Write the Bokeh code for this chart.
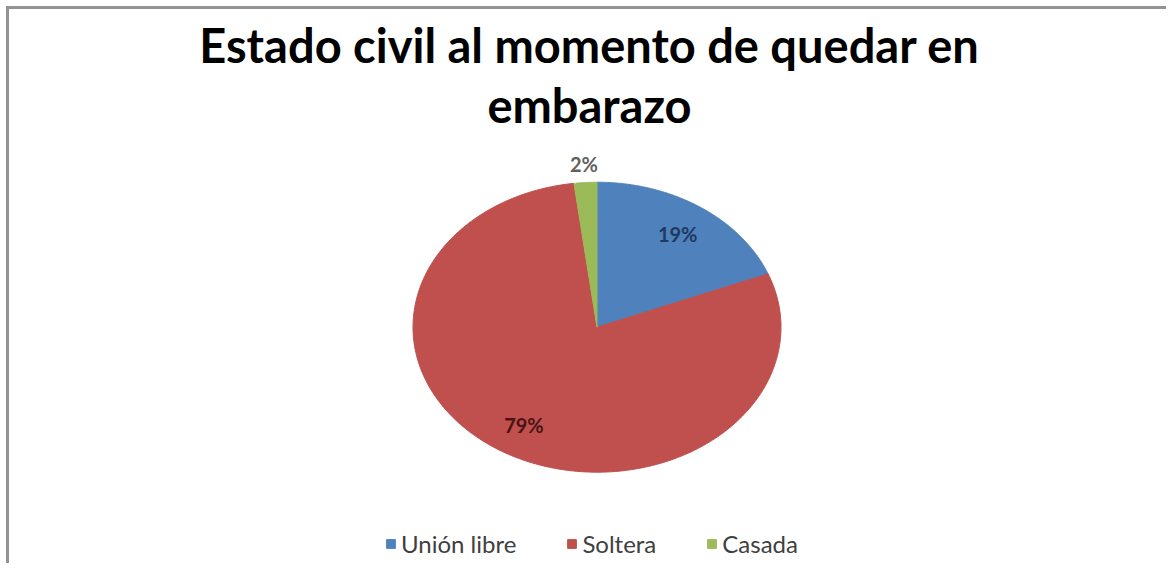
import numpy as np
from bokeh.plotting import figure
from bokeh.models import ColumnDataSource, Legend, LegendItem, Title
from bokeh.core.properties import value
from bokeh.embed import file_html
from bokeh.resources import INLINE

# ---- data ----
title_lines = ["Estado civil al momento de quedar en", "embarazo"]
categories = ["Unión libre", "Soltera", "Casada"]
shares = [19, 79, 2]
colors = ["#4F81BD", "#C0504D", "#9BBB59"]
label_colors = ["#1F3A60", "#4A1414", "#606060"]

# ---- layout (pixels, canvas origin sits at page (9, 9)) ----
W, H = 1160, 557
TOP = 123
RX, RY = 184, 145          # pie ellipse radii in px
CX, CY = 587.5, 317.7      # pie centre inside the canvas, px
frame_h = H - TOP
cy_f = CY - TOP
x_range = (-CX / RX, (W - CX) / RX)
y_range = (-(frame_h - cy_f) / RY, cy_f / RY)

p = figure(width=W, height=H, x_range=x_range, y_range=y_range,
           output_backend="svg", toolbar_location=None,
           x_axis_location=None, y_axis_location=None,
           min_border_left=0, min_border_right=0, min_border_bottom=0,
           min_border_top=TOP,
           styles={"margin-left": "6px", "margin-top": "6px",
                   "border-left": "3px solid #939393", "border-top": "3px solid #939393"})
p.grid.grid_line_color = None
p.outline_line_color = None
p.background_fill_color = "white"
p.border_fill_color = "white"

def style_title(t, txt, standoff):
    t.text = txt
    t.align = "center"
    t.text_font = "Lato"
    t.text_font_style = "bold"
    t.text_font_size = "47px"
    t.text_color = "#000000"
    t.standoff = standoff

# first line is the figure's own title (outermost), second line added below it
style_title(p.title, title_lines[0], 4)
t2 = Title()
style_title(t2, title_lines[1], 0)
p.add_layout(t2, "above")

# ---- slices (unit circle in data space, stretched by the ranges) ----
total = float(sum(shares))
cum = np.concatenate([[0.0], np.cumsum(shares)]) / total
xs, ys, lx, ly, ltxt = [], [], [], [], []
for i, s in enumerate(shares):
    a0 = np.pi / 2 - 2 * np.pi * cum[i]
    a1 = np.pi / 2 - 2 * np.pi * cum[i + 1]
    t = np.linspace(a0, a1, 240)
    xs.append([0.0, *np.cos(t), 0.0])
    ys.append([0.0, *np.sin(t), 0.0])
    mid = (a0 + a1) / 2
    f = 0.78 if s / total >= 0.05 else 1.13
    lx.append(f * np.cos(mid))
    ly.append(f * np.sin(mid))
    ltxt.append(f"{round(100 * s / total)}%")

src = ColumnDataSource(dict(xs=xs, ys=ys, color=colors, category=categories))
r = p.patches("xs", "ys", source=src, fill_color="color", line_color="color", line_width=1)

lsrc = ColumnDataSource(dict(x=lx, y=ly, text=ltxt, color=label_colors))
p.text("x", "y", text="text", source=lsrc, text_color="color",
       text_align="center", text_baseline="middle",
       text_font=value("Lato"), text_font_size="20px", text_font_style="bold")

legend = Legend(items=[LegendItem(label=c, renderers=[r], index=i) for i, c in enumerate(categories)],
                orientation="horizontal", location=(376, 8),
                glyph_width=11, glyph_height=11, label_standoff=5, spacing=50,
                padding=0, margin=0, border_line_color=None, background_fill_alpha=0,
                label_text_font="Lato", label_text_font_size="24px", label_text_color="#404040")
p.add_layout(legend, "center")

open("out.html", "w").write(file_html(p, INLINE))
